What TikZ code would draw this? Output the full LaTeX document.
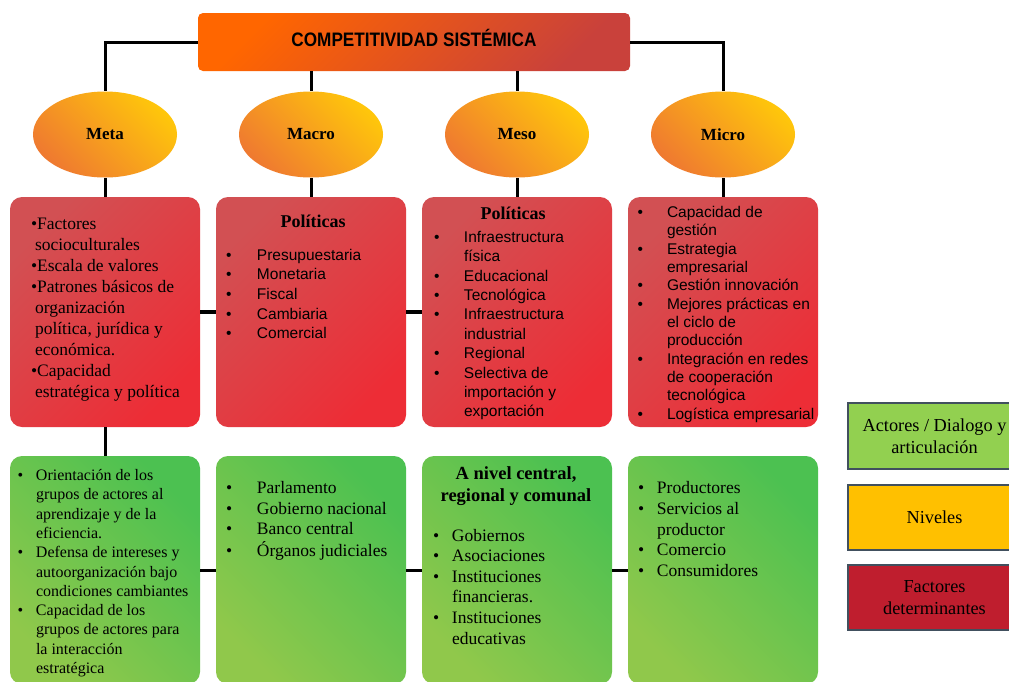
\documentclass[tikz,border=0pt]{standalone}
\usepackage{fontspec}
\setmainfont{Liberation Serif}
\setsansfont{Liberation Sans}
\newfontfamily\titlefont[FakeStretch=0.88]{Liberation Sans}
\usetikzlibrary{shapes.geometric}
\definecolor{tA}{HTML}{FF6600}
\definecolor{tM}{HTML}{F05C16}
\definecolor{tB}{HTML}{C9413B}
\definecolor{eA}{HTML}{EF7A30}
\definecolor{eB}{HTML}{FFC60B}
\definecolor{rA}{HTML}{D25053}
\definecolor{rB}{HTML}{ED2D36}
\definecolor{gA}{HTML}{90C84B}
\definecolor{gB}{HTML}{4CC151}
\definecolor{lgG}{HTML}{92D050}
\definecolor{lgY}{HTML}{FFC000}
\definecolor{lgR}{HTML}{BF1E2E}
\definecolor{lgB}{HTML}{41505E}
\newcommand\bul[1]{\makebox[#1pt][l]{•}}
\newcommand\ind[1]{\hspace*{#1pt}}
\tikzset{
  conn/.style={line width=3pt, black},
  connthick/.style={line width=4pt, black},
  titlebox/.style={rectangle, rounded corners=5pt, left color=tA, middle color=tM, right color=tB, shading angle=45,
     minimum width=432pt, minimum height=58pt, inner sep=0pt, text height=14pt, text depth=6pt},
  lvl/.style={ellipse, left color=eA, right color=eB, shading angle=135,
     minimum width=144pt, minimum height=86pt, inner sep=0pt,
     font=\bfseries\fontsize{17}{20}\selectfont},
  redbox/.style={rectangle, rounded corners=12pt, left color=rA, right color=rB, shading angle=45,
     minimum width=190pt, minimum height=230pt, inner sep=0pt},
  greenbox/.style={rectangle, rounded corners=12pt, left color=gA, right color=gB, shading angle=135,
     minimum width=190pt, minimum height=228pt, inner sep=0pt},
  txt/.style={anchor=base west, inner sep=0pt, outer sep=0pt},
  head/.style={anchor=base, inner sep=0pt, outer sep=0pt},
  legbox/.style={rectangle, draw=lgB, line width=1.5pt, minimum width=173pt, inner sep=0pt,
     align=center, font=\fontsize{18.3}{22.5}\selectfont}
}
\begin{document}
\begin{tikzpicture}[x=1pt,y=-1pt]
\useasboundingbox (0,0) rectangle (1009,681);
\clip (0,0) rectangle (1009,681);
\fill[white] (0,0) rectangle (1009,681);

% title
\node[titlebox] (title) at (414,42) {\titlefont\bfseries\fontsize{19.5}{22}\selectfont COMPETITIVIDAD SISTÉMICA};

% levels
\node[lvl] (e1) at (105,134.5) {Meta};
\node[lvl] (e2) at (311,134.5) {Macro};
\node[lvl] (e3) at (517,134.5) {Meso};
\node[lvl] (e4) at (723,134.5) {Micro};

% red boxes
\node[redbox] (r1) at (105,312) {};
\node[redbox] (r2) at (311,312) {};
\node[redbox] (r3) at (517,312) {};
\node[redbox] (r4) at (723,312) {};

% green boxes
\node[greenbox] (g1) at (105,570) {};
\node[greenbox] (g2) at (311,570) {};
\node[greenbox] (g3) at (517,570) {};
\node[greenbox] (g4) at (723,570) {};

% connectors
\draw[conn] (title.west) -| (e1.north);
\draw[conn] (title.east) -| (e4.north);
\draw[conn] (title.south -| e2) -- (e2.north);
\draw[conn] (title.south -| e3) -- (e3.north);
\draw[conn] (e1.south) -- (r1.north);
\draw[conn] (e2.south) -- (r2.north);
\draw[conn] (e3.south) -- (r3.north);
\draw[conn] (e4.south) -- (r4.north);
\draw[connthick] (r1.east) -- (r2.west);
\draw[connthick] (r2.east) -- (r3.west);
\draw[conn] (r1.south) -- (g1.north);
\draw[conn] (g1.east) -- (g2.west);
\draw[conn] (g2.east) -- (g3.west);
\draw[conn] (g3.east) -- (g4.west);

% red box texts
\node[txt, font=\fontsize{17.5}{21}\selectfont] (t1) at (35,229.3) {\begin{tabular}[t]{@{}l@{}}
\hspace*{-4pt}•Factores\\ socioculturales\\ \hspace*{-4pt}•Escala de valores\\ \hspace*{-4pt}•Patrones básicos de\\ organización\\ política, jurídica y\\ económica.\\ \hspace*{-4pt}•Capacidad\\ estratégica y política\end{tabular}};

\node[head, font=\bfseries\fontsize{18}{21}\selectfont] (h2) at (313,227.7) {Políticas};
\node[txt, font=\sffamily\fontsize{15.5}{19.7}\selectfont] (t2) at (226,260) {\begin{tabular}[t]{@{}l@{}}
\bul{31}Presupuestaria\\ \bul{31}Monetaria\\ \bul{31}Fiscal\\ \bul{31}Cambiaria\\ \bul{31}Comercial\end{tabular}};

\node[head, font=\bfseries\fontsize{18}{21}\selectfont] (h3) at (513,219.3) {Políticas};
\node[txt, font=\sffamily\fontsize{15.5}{19.4}\selectfont] (t3) at (434,242.3) {\begin{tabular}[t]{@{}l@{}}
\bul{30}Infraestructura\\ \ind{30}física\\ \bul{30}Educacional\\ \bul{30}Tecnológica\\ \bul{30}Infraestructura\\ \ind{30}industrial\\ \bul{30}Regional\\ \bul{30}Selectiva de\\ \ind{30}importación y\\ \ind{30}exportación\end{tabular}};

\node[txt, font=\sffamily\fontsize{15.5}{18.36}\selectfont] (t4) at (637.5,217.3) {\begin{tabular}[t]{@{}l@{}}
\bul{29.5}Capacidad de\\ \ind{29.5}gestión\\ \bul{29.5}Estrategia\\ \ind{29.5}empresarial\\ \bul{29.5}Gestión innovación\\ \bul{29.5}Mejores prácticas en\\ \ind{29.5}el ciclo de\\ \ind{29.5}producción\\ \bul{29.5}Integración en redes\\ \ind{29.5}de cooperación\\ \ind{29.5}tecnológica\\ \bul{29.5}Logística empresarial\end{tabular}};

% green box texts
\node[txt, font=\fontsize{16}{19.26}\selectfont] (u1) at (17.5,480.7) {\begin{tabular}[t]{@{}l@{}}
\bul{18.5}Orientación de los\\ \ind{18.5}grupos de actores al\\ \ind{18.5}aprendizaje y de la\\ \ind{18.5}eficiencia.\\ \bul{18.5}Defensa de intereses y\\ \ind{18.5}autoorganización bajo\\ \ind{18.5}condiciones cambiantes\\ \bul{18.5}Capacidad de los\\ \ind{18.5}grupos de actores para\\ \ind{18.5}la interacción\\ \ind{18.5}estratégica\end{tabular}};

\node[txt, font=\fontsize{17.5}{20.8}\selectfont] (u2) at (226,493.3) {\begin{tabular}[t]{@{}l@{}}
\bul{31}Parlamento\\ \bul{31}Gobierno nacional\\ \bul{31}Banco central\\ \bul{31}Órganos judiciales\end{tabular}};

\node[head, font=\bfseries\fontsize{18.5}{21.7}\selectfont] (h5) at (516,479.3) {\begin{tabular}[t]{@{}c@{}}A nivel central,\\ regional y comunal\end{tabular}};
\node[txt, font=\fontsize{17.5}{20.66}\selectfont] (u3) at (433,541) {\begin{tabular}[t]{@{}l@{}}
\bul{19}Gobiernos\\ \bul{19}Asociaciones\\ \bul{19}Instituciones\\ \ind{19}financieras.\\ \bul{19}Instituciones\\ \ind{19}educativas\end{tabular}};

\node[txt, font=\fontsize{17.5}{20.85}\selectfont] (u4) at (638,493.3) {\begin{tabular}[t]{@{}l@{}}
\bul{19}Productores\\ \bul{19}Servicios al\\ \ind{19}productor\\ \bul{19}Comercio\\ \bul{19}Consumidores\end{tabular}};

% legend
\node[legbox, fill=lgG, minimum height=66pt] (l1) at (934.5,436) {Actores / Dialogo y\\ articulación};
\node[legbox, fill=lgY, minimum height=65pt] (l2) at (934.5,517.5) {Niveles};
\node[legbox, fill=lgR, minimum height=65pt] (l3) at (934.5,597.5) {Factores\\ determinantes};
\end{tikzpicture}
\end{document}
